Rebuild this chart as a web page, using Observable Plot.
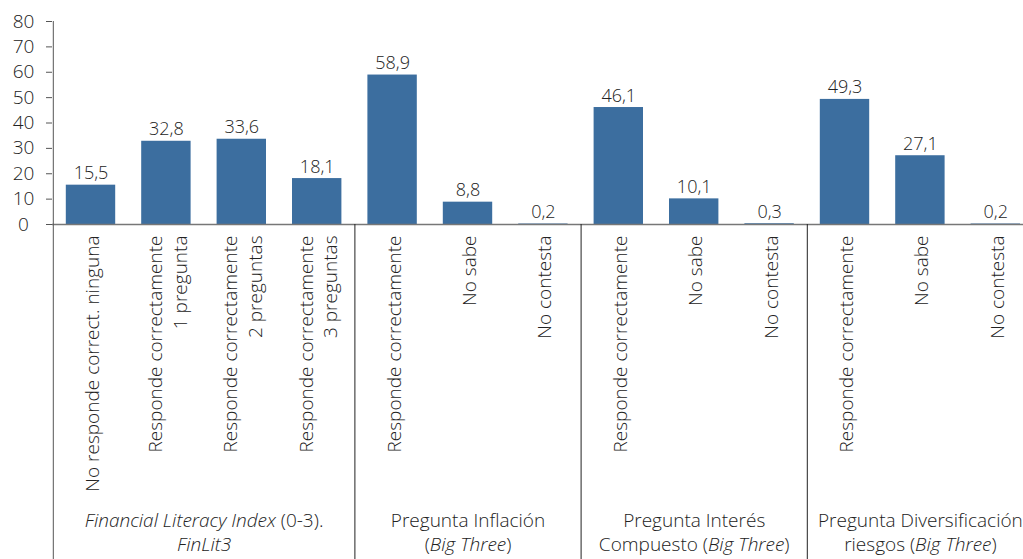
<!DOCTYPE html>
<html>
<head>
<meta charset="utf-8">
<script src="https://cdn.jsdelivr.net/npm/d3@7"></script>
<script src="https://cdn.jsdelivr.net/npm/@observablehq/plot@0.6"></script>
<style>
  html, body { margin: 0; padding: 0; background: #fff; }
  svg { display: block; }
</style>
</head>
<body>
<div id="chart"></div>
<script>
const categories = [
  "No responde correct. ninguna",
  "Responde correctamente\n1 pregunta",
  "Responde correctamente\n2 preguntas",
  "Responde correctamente\n3 preguntas",
  "Responde correctamente",
  "No sabe",
  "No contesta",
  "Responde correctamente",
  "No sabe",
  "No contesta",
  "Responde correctamente",
  "No sabe",
  "No contesta"
];
const values = [15.5, 32.8, 33.6, 18.1, 58.9, 8.8, 0.2, 46.1, 10.1, 0.3, 49.3, 27.1, 0.2];
const groupNames = [
  "Financial Literacy Index (0-3).\nFinLit3",
  "Pregunta Inflación\n(Big Three)",
  "Pregunta Interés\nCompuesto (Big Three)",
  "Pregunta Diversificación\nriesgos (Big Three)"
];
const groupSizes = [4, 3, 3, 3];
const italicTerms = ["Financial Literacy Index", "FinLit3", "Big Three"];
const yTicks = [0, 10, 20, 30, 40, 50, 60, 70, 80];

const table = categories.map((c, i) => ({i, label: c, value: values[i]}));
let acc = 0;
const groups = groupNames.map((g, k) => {
  const start = acc; acc += groupSizes[k];
  return {name: g, start, end: acc};
});

const fmt = v => v.toFixed(1).replace(".", ",");
const barColor = "#3c6e9f";
const font = "'Open Sans', sans-serif";

const plot = Plot.plot({
  width: 1023,
  height: 559,
  marginTop: 21,
  marginBottom: 335,
  marginLeft: 52,
  marginRight: 0,
  style: {fontFamily: font, fontSize: "18px", fontWeight: 300, color: "#222", background: "#fff"},
  x: {domain: [0, 13], range: [52.8, 1033], axis: null},
  y: {domain: [0, 80], axis: null},
  marks: [
    Plot.rectY(table, {x1: d => d.i, x2: d => d.i + 1, y: "value", fill: barColor, insetLeft: 13, insetRight: 13}),
    Plot.text(table, {x: d => d.i + 0.5, y: "value", text: d => fmt(d.value), lineAnchor: "bottom", dy: -6, fontSize: 18, fill: "#222"}),
    Plot.axisY({ticks: yTicks, label: null, tickSize: 6, tickPadding: 23, textAnchor: "middle", fontSize: 19, stroke: "#555", fill: "#222"}),
    Plot.ruleY([0], {stroke: "#777", strokeWidth: 1.3}),
    Plot.ruleX([0], {stroke: "#555", insetBottom: -335}),
    Plot.ruleX(groups.slice(1), {x: "start", stroke: "#222", insetTop: 203, insetBottom: -335}),
    Plot.text(table, {x: d => d.i + 0.5, y: 0, text: "label", rotate: -90, textAnchor: "end", lineAnchor: "middle", dy: 11, fontSize: 19, lineHeight: 1.3, fill: "#222"}),
    Plot.text(groups, {x: d => (d.start + d.end) / 2, y: 0, text: "name", lineAnchor: "top", dy: 285, fontSize: 19, lineHeight: 1.28, fill: "#222", className: "grouplabel"})
  ]
});

document.getElementById("chart").appendChild(plot);

// Italicize terms in group labels
const re = new RegExp("(" + italicTerms.map(t => t.replace(/[.*+?^${}()|[\]\\]/g, "\\$&")).join("|") + ")", "g");
d3.select(plot).selectAll("g.grouplabel text").each(function() {
  const text = d3.select(this);
  const tspans = text.selectAll("tspan");
  const targets = tspans.empty() ? [this] : tspans.nodes();
  targets.forEach(node => {
    const content = node.textContent;
    const parts = content.split(re).filter(p => p.length);
    node.textContent = "";
    parts.forEach(p => {
      const ts = document.createElementNS("http://www.w3.org/2000/svg", "tspan");
      ts.textContent = p;
      if (italicTerms.includes(p)) ts.setAttribute("font-style", "italic");
      node.appendChild(ts);
    });
  });
});
</script>
</body>
</html>
